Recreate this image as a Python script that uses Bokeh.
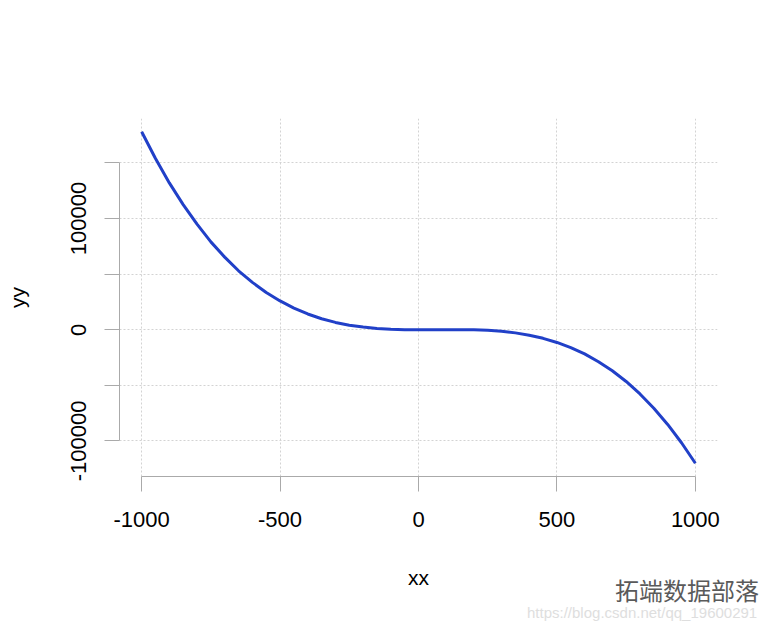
from bokeh.plotting import figure
from bokeh.models import FixedTicker, Range1d, Div
from bokeh.layouts import column
from bokeh.embed import file_html
from bokeh.resources import INLINE

# data
xx = [-1000, -950, -900, -850, -800, -750, -700, -650, -600, -550, -500,
      -450, -400, -350, -300, -250, -200, -150, -100, -50, 0,
      50, 100, 150, 200, 250, 300, 350, 400, 450, 500,
      550, 600, 650, 700, 750, 800, 850, 900, 950, 1000]
yy = [178000, 154000, 132000, 112500, 95000, 79000, 65300, 53000, 42600, 33500, 25900,
      19500, 14200, 9900, 6600, 4100, 2400, 1200, 400, 100, 0,
      50, 100, 100, 0, -500, -1400, -2800, -4900, -7700, -11400,
      -16000, -21700, -28700, -36900, -46500, -57700, -70500, -85100, -101600, -120000]

x_ticks = [-1000, -500, 0, 500, 1000]
x_tick_labels = ["-1000", "-500", "0", "500", "1000"]
y_ticks = [-100000, -50000, 0, 50000, 100000, 150000]
y_tick_labels = ["-100000", "", "0", "", "100000", ""]
watermark_name = "拓端数据部落"
watermark_url = "https://blog.csdn.net/qq_19600291"

W, H = 775, 620
p = figure(width=W, height=H, output_backend="svg", toolbar_location=None,
           x_range=Range1d(-1080, 1080), y_range=Range1d(-131920, 189920),
           min_border_left=119, min_border_right=W - 717, min_border_top=118,
           min_border_bottom=H - 476)
p.outline_line_color = None
p.background_fill_color = "white"
p.border_fill_color = "white"

p.line(xx, yy, line_color="#2140c8", line_width=3)

FONT = "Liberation Sans"
AX = "#aaaaaa"
for ax in (p.xaxis[0], p.yaxis[0]):
    ax.axis_line_color = AX
    ax.major_tick_line_color = AX
    ax.major_tick_out = 15
    ax.major_tick_in = 0
    ax.minor_tick_line_color = None
    ax.major_label_text_font = FONT
    ax.major_label_text_font_size = "22px"
    ax.major_label_text_color = "black"
    ax.axis_label_text_font = FONT
    ax.axis_label_text_font_size = "21px"
    ax.axis_label_text_font_style = "normal"
    ax.axis_label_text_color = "black"

p.xaxis.ticker = FixedTicker(ticks=x_ticks)
p.xaxis.major_label_overrides = dict(zip(x_ticks, x_tick_labels))
p.xaxis.bounds = (x_ticks[0], x_ticks[-1])
p.xaxis.axis_label = "xx"
p.xaxis.major_label_standoff = 20
p.xaxis.axis_label_standoff = 36

p.yaxis.ticker = FixedTicker(ticks=y_ticks)
p.yaxis.major_label_overrides = dict(zip(y_ticks, y_tick_labels))
p.yaxis.bounds = (y_ticks[0], y_ticks[-1])
p.yaxis.axis_label = "yy"
p.yaxis.major_label_orientation = "vertical"
p.yaxis.major_label_standoff = 18
p.yaxis.axis_label_standoff = 40

for g, t in ((p.xgrid[0], x_ticks), (p.ygrid[0], y_ticks)):
    g.ticker = FixedTicker(ticks=t)
    g.grid_line_color = "#d3d3d3"
    g.grid_line_dash = "2 2"
    g.grid_line_width = 1

# watermark in the lower right corner, drawn over the figure's bottom border
wm_html = (
    '<div style="margin-left:100px;font-family:\'Noto Sans CJK SC\';font-size:24px;'
    'line-height:24px;color:#5a5a5a;white-space:nowrap">' + watermark_name + '</div>'
    '<div style="margin-left:12px;margin-top:3px;font-family:\'Liberation Sans\';'
    'font-size:15px;line-height:15px;color:#dedede;white-space:nowrap">'
    + watermark_url + '</div>'
)
wm = Div(text=wm_html, width=258, height=44, margin=(-42, 0, 0, 515))

layout = column(p, wm, spacing=0)
open("out.html", "w").write(file_html(layout, INLINE))
